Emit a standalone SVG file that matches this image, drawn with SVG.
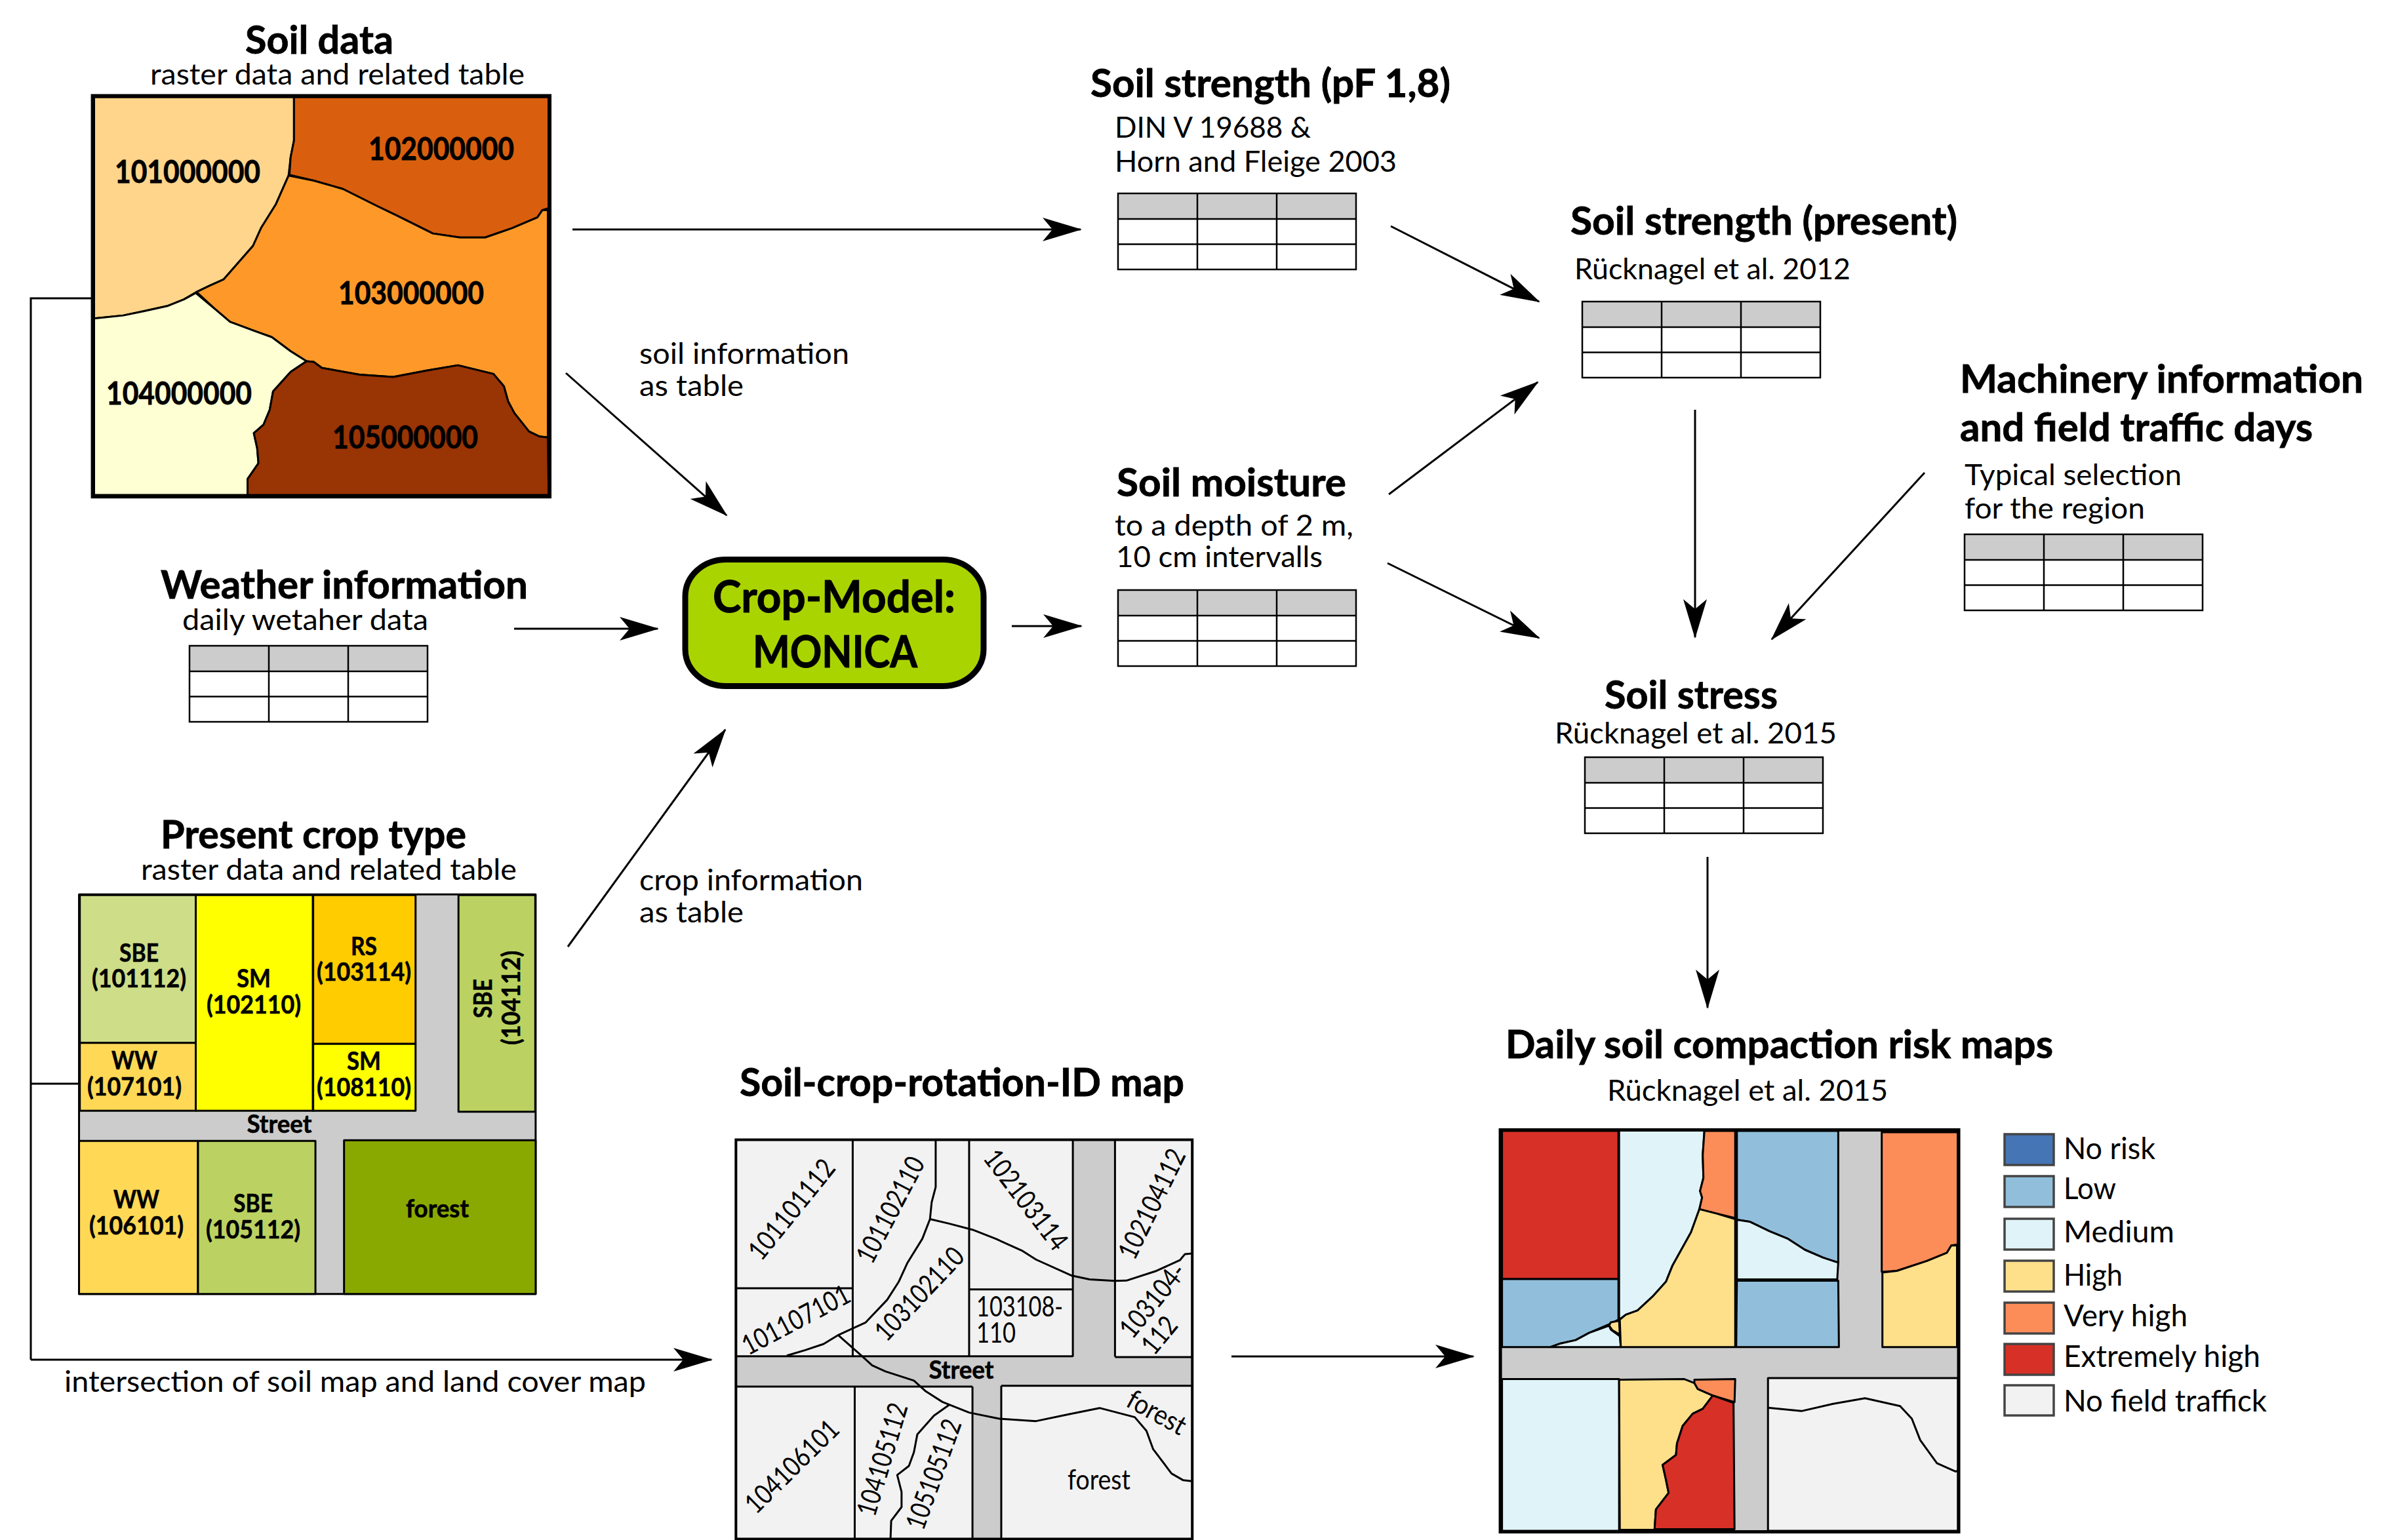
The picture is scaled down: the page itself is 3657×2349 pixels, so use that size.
<svg xmlns="http://www.w3.org/2000/svg" width="3657" height="2349" viewBox="0 0 3657 2349">
<style>
text{font-family:"Lato","Carlito","Liberation Sans",sans-serif;fill:#000}
.h{font-size:60px;font-weight:700;stroke:#000;stroke-width:.8}
.s{font-size:45px}
.n{font-size:47px;font-weight:700;stroke:#000;stroke-width:.8}
.c{font-size:38px;font-weight:700;text-anchor:middle;stroke:#000;stroke-width:.6}
.i{font-size:42px}
.l{font-size:46px}
.cm{font-size:66px;font-weight:700;stroke:#000;stroke-width:1}
.m{stroke:#000;stroke-width:3;stroke-linejoin:round;vector-effect:non-scaling-stroke}
.t{stroke:#000;stroke-width:5;fill:none;vector-effect:non-scaling-stroke}
.f{fill:none}
.k{stroke:#000;stroke-width:3;fill:none}
.a{marker-end:url(#arrow)}
.lg{stroke:#444;stroke-width:3.5}
</style>
<defs>
<marker id="arrow" markerUnits="userSpaceOnUse" markerWidth="64" markerHeight="40" refX="58" refY="20" orient="auto">
<path d="M0,2 L60,20 L0,38 L15,20 Z" fill="#000"/>
</marker>
<g id="tbl">
<rect x="0" y="0" width="363" height="39" fill="#ccc"/>
<rect x="0" y="0" width="363" height="116" fill="none" stroke="#000" stroke-width="2.5"/>
<path d="M121,0V116M242,0V116M0,39H363M0,77.5H363" fill="none" stroke="#000" stroke-width="2.5"/>
</g>
</defs>
<rect width="3657" height="2349" fill="#fff"/>

<g id="connectors">
<path class="k" d="M141,455H47V2074"/>
<path class="k" d="M47,1653H120"/>
<path class="k a" d="M47,2074H1085"/>
<path class="k a" d="M873,350H1648"/>
<path class="k a" d="M863,569L1108,786"/>
<path class="k a" d="M784,959H1003"/>
<path class="k a" d="M866,1444L1106,1113"/>
<path class="k a" d="M1543,955H1649"/>
<path class="k a" d="M2121,345L2347,460"/>
<path class="k a" d="M2118,754L2345,583"/>
<path class="k a" d="M2116,859L2347,973"/>
<path class="k a" d="M2585,625V972"/>
<path class="k a" d="M2935,721L2702,975"/>
<path class="k a" d="M2604,1307V1537"/>
<path class="k a" d="M1878,2069H2247"/>
</g>

<g id="soil-data">
<text class="h" x="374" y="82" textLength="226" lengthAdjust="spacingAndGlyphs">Soil data</text>
<text class="s" x="229" y="129" textLength="571" lengthAdjust="spacingAndGlyphs">raster data and related table</text>
<g transform="scale(0.63776,0.5102)">
<path class="m" fill="#FFD58B" d="M225,290L703,290L703,420L695,470L690,525L660,610L625,680L605,735L570,785L535,835L500,855L470,873L440,895L400,915L345,930L295,943L225,952Z"/>
<path class="m" fill="#D95F0E" d="M703,290L1312,290L1312,622L1297,628L1285,650L1225,682L1160,710L1100,710L1035,698L950,645L900,615L820,565L750,540L692,523L695,470L703,420Z"/>
<path class="m" fill="#FE9929" d="M690,525L750,540L820,565L900,615L950,645L1035,698L1100,710L1160,710L1225,682L1285,650L1297,628L1310,628L1310,1308L1290,1305L1265,1290L1230,1235L1215,1200L1205,1155L1180,1118L1095,1092L1020,1108L940,1127L860,1120L770,1100L750,1082L733,1080L695,1050L650,1008L610,990L550,962L515,925L470,873L500,855L535,835L570,785L605,735L625,680L660,610Z"/>
<path class="m" fill="#FFFFD4" d="M225,952L295,943L345,930L400,915L440,895L468,876L515,925L550,962L610,990L650,1008L695,1050L733,1080L695,1112L653,1170L645,1225L630,1270L607,1295L615,1340L618,1385L592,1432L592,1480L225,1480Z"/>
<path class="m" fill="#993404" d="M733,1080L750,1082L770,1100L860,1120L940,1127L1020,1108L1095,1092L1180,1118L1205,1155L1215,1200L1230,1235L1265,1290L1290,1305L1310,1308L1312,1480L592,1480L592,1432L618,1385L615,1340L607,1295L630,1270L645,1225L653,1170L695,1112Z"/>
<rect class="t" x="222" y="287" width="1092" height="1197" style="stroke-width:6"/>
</g>
<text class="n" x="175" y="279" textLength="222" lengthAdjust="spacingAndGlyphs">101000000</text>
<text class="n" x="562" y="244" textLength="222" lengthAdjust="spacingAndGlyphs">102000000</text>
<text class="n" x="516" y="464" textLength="222" lengthAdjust="spacingAndGlyphs">103000000</text>
<text class="n" x="162" y="617" textLength="222" lengthAdjust="spacingAndGlyphs">104000000</text>
<text class="n" x="507" y="684" textLength="222" lengthAdjust="spacingAndGlyphs">105000000</text>
</g>

<g id="soil-strength-pf">
<text class="h" x="1663" y="148" textLength="549" lengthAdjust="spacingAndGlyphs">Soil strength (pF 1,8)</text>
<text class="s" x="1700" y="210" textLength="299" lengthAdjust="spacingAndGlyphs">DIN V 19688 &amp;</text>
<text class="s" x="1700" y="262" textLength="430" lengthAdjust="spacingAndGlyphs">Horn and Fleige 2003</text>
<use href="#tbl" x="1705" y="295"/>
</g>

<g id="soil-strength-present">
<text class="h" x="2395" y="358" textLength="590" lengthAdjust="spacingAndGlyphs">Soil strength (present)</text>
<text class="s" x="2401" y="426" textLength="421" lengthAdjust="spacingAndGlyphs">Rücknagel et al. 2012</text>
<use href="#tbl" x="2413" y="460"/>
</g>

<g id="machinery">
<text class="h" x="2989" y="599" textLength="615" lengthAdjust="spacingAndGlyphs">Machinery information</text>
<text class="h" x="2989" y="673" textLength="538" lengthAdjust="spacingAndGlyphs">and field traffic days</text>
<text class="s" x="2996" y="740" textLength="331" lengthAdjust="spacingAndGlyphs">Typical selection</text>
<text class="s" x="2996" y="791" textLength="275" lengthAdjust="spacingAndGlyphs">for the region</text>
<use href="#tbl" x="2996" y="815"/>
</g>

<g id="soil-moisture">
<text class="h" x="1703" y="757" textLength="350" lengthAdjust="spacingAndGlyphs">Soil moisture</text>
<text class="s" x="1700" y="817" textLength="364" lengthAdjust="spacingAndGlyphs">to a depth of 2 m,</text>
<text class="s" x="1702" y="865" textLength="315" lengthAdjust="spacingAndGlyphs">10 cm intervalls</text>
<use href="#tbl" x="1705" y="900"/>
</g>

<g id="soil-stress">
<text class="h" x="2447" y="1081" textLength="264" lengthAdjust="spacingAndGlyphs">Soil stress</text>
<text class="s" x="2371" y="1134" textLength="430" lengthAdjust="spacingAndGlyphs">Rücknagel et al. 2015</text>
<use href="#tbl" x="2417" y="1155"/>
</g>

<g id="weather">
<text class="h" x="245" y="913" textLength="560" lengthAdjust="spacingAndGlyphs">Weather information</text>
<text class="s" x="278" y="961" textLength="375" lengthAdjust="spacingAndGlyphs">daily wetaher data</text>
<use href="#tbl" x="289" y="985"/>
</g>

<g id="crop-model">
<rect x="1045" y="853.5" width="455" height="193" rx="62" ry="56" fill="#AAD400" stroke="#000" stroke-width="9"/>
<text class="cm" x="1087" y="934" textLength="370" lengthAdjust="spacingAndGlyphs">Crop-Model:</text>
<text class="cm" x="1148" y="1018" textLength="251" lengthAdjust="spacingAndGlyphs">MONICA</text>
</g>

<g id="edge-labels">
<text class="s" x="975" y="555" textLength="320" lengthAdjust="spacingAndGlyphs">soil information</text>
<text class="s" x="975" y="604" textLength="159" lengthAdjust="spacingAndGlyphs">as table</text>
<text class="s" x="975" y="1358" textLength="341" lengthAdjust="spacingAndGlyphs">crop information</text>
<text class="s" x="975" y="1407" textLength="159" lengthAdjust="spacingAndGlyphs">as table</text>
<text class="s" x="98" y="2123" textLength="887" lengthAdjust="spacingAndGlyphs">intersection of soil map and land cover map</text>
</g>

<g id="present-crop-type">
<text class="h" x="245" y="1294" textLength="466" lengthAdjust="spacingAndGlyphs">Present crop type</text>
<text class="s" x="215" y="1342" textLength="573" lengthAdjust="spacingAndGlyphs">raster data and related table</text>
<g transform="translate(0,1230) scale(0.57405,0.5102)">
<rect class="m" fill="#ccc" x="210" y="263" width="1213" height="1195"/>
<rect class="m" fill="#CEDD88" x="212" y="265" width="308" height="442"/>
<rect class="m" fill="#FFD955" x="212" y="707" width="308" height="203"/>
<rect class="m" fill="#FFFF00" x="520" y="265" width="311" height="645"/>
<rect class="m" fill="#FFCC00" x="832" y="265" width="272" height="445"/>
<rect class="m" fill="#FFFF00" x="832" y="710" width="272" height="200"/>
<rect class="m" fill="#BBD262" x="1218" y="265" width="204" height="648"/>
<rect class="m" fill="#FFD955" x="210" y="1000" width="316" height="458"/>
<rect class="m" fill="#BBD262" x="526" y="1000" width="312" height="458"/>
<rect class="m" fill="#8AA900" x="914" y="998" width="509" height="460"/>
</g>
<text class="c" x="212" y="1467" textLength="60" lengthAdjust="spacingAndGlyphs">SBE</text>
<text class="c" x="212" y="1506" textLength="144" lengthAdjust="spacingAndGlyphs">(101112)</text>
<text class="c" x="387" y="1506" textLength="52" lengthAdjust="spacingAndGlyphs">SM</text>
<text class="c" x="387" y="1546" textLength="144" lengthAdjust="spacingAndGlyphs">(102110)</text>
<text class="c" x="555" y="1457" textLength="40" lengthAdjust="spacingAndGlyphs">RS</text>
<text class="c" x="555" y="1496" textLength="144" lengthAdjust="spacingAndGlyphs">(103114)</text>
<text class="c" x="205" y="1631" textLength="70" lengthAdjust="spacingAndGlyphs">WW</text>
<text class="c" x="205" y="1671" textLength="144" lengthAdjust="spacingAndGlyphs">(107101)</text>
<text class="c" x="555" y="1632" textLength="52" lengthAdjust="spacingAndGlyphs">SM</text>
<text class="c" x="555" y="1672" textLength="144" lengthAdjust="spacingAndGlyphs">(108110)</text>
<text class="c" transform="translate(750,1523) rotate(-90)" textLength="60" lengthAdjust="spacingAndGlyphs">SBE</text>
<text class="c" transform="translate(793,1522) rotate(-90)" textLength="144" lengthAdjust="spacingAndGlyphs">(104112)</text>
<text class="c" x="426" y="1728" textLength="99" lengthAdjust="spacingAndGlyphs">Street</text>
<text class="c" x="208" y="1843" textLength="70" lengthAdjust="spacingAndGlyphs">WW</text>
<text class="c" x="208" y="1883" textLength="144" lengthAdjust="spacingAndGlyphs">(106101)</text>
<text class="c" x="386" y="1849" textLength="60" lengthAdjust="spacingAndGlyphs">SBE</text>
<text class="c" x="386" y="1889" textLength="144" lengthAdjust="spacingAndGlyphs">(105112)</text>
<text class="c" x="667" y="1857" textLength="96" lengthAdjust="spacingAndGlyphs">forest</text>
</g>

<g id="soil-crop-rotation-id-map">
<text class="h" x="1128" y="1672" textLength="678" lengthAdjust="spacingAndGlyphs">Soil-crop-rotation-ID map</text>
<g transform="translate(1080,1620) scale(0.5102,0.46490)">
<rect class="m" fill="#F2F2F2" x="83" y="255" width="1364" height="1310"/>
<path fill="#ccc" d="M1090,255H1215V967H1447V1062H876V1565H790V1065H85V967H1090Z"/>
<path class="m f" d="M432,255V965M85,742H432M780,255V965M780,746H1090M1090,255V967M1216,255V967M85,965H1090M1216,968H1447M85,1065H790M876,1062H1447M438,1065V1565M790,1065V1565M876,1062V1565"/>
<path class="m f" d="M680,255L680,410L668,460L663,515L640,580L595,660L570,720L535,780L470,855L390,895L345,925L290,945L235,963"/>
<path class="m f" d="M663,515L720,530L790,550L860,580L940,620L980,648L1085,700L1140,713L1215,718L1250,717L1340,685L1410,650L1425,630L1445,628"/>
<path class="m f" d="M390,897L460,965L490,995L530,1015L615,1045L650,1080L700,1115L780,1150L870,1170L980,1178L1080,1155L1170,1135L1275,1165L1310,1210L1330,1270L1385,1350L1420,1372L1445,1375"/>
<path class="m f" d="M720,1125L675,1160L625,1222L615,1280L600,1325L565,1355L578,1410L578,1460L547,1505L545,1565"/>
<rect class="t" x="83" y="255" width="1364" height="1310" style="stroke-width:4"/>
</g>
<text class="i" transform="translate(1161,1925) rotate(-51)" textLength="183" lengthAdjust="spacingAndGlyphs">101101112</text>
<text class="i" transform="translate(1330,1930) rotate(-62.4)" textLength="176" lengthAdjust="spacingAndGlyphs">101102110</text>
<text class="i" transform="translate(1141,2068) rotate(-27.8)" textLength="180" lengthAdjust="spacingAndGlyphs">101107101</text>
<text class="i" transform="translate(1352,2048) rotate(-46.8)" textLength="177" lengthAdjust="spacingAndGlyphs">103102110</text>
<text class="i" transform="translate(1498,1767) rotate(52.6)" textLength="181" lengthAdjust="spacingAndGlyphs">102103114</text>
<text class="i" transform="translate(1730,1924) rotate(-64)" textLength="181" lengthAdjust="spacingAndGlyphs">102104112</text>
<text class="i" x="1489" y="2008" textLength="132" lengthAdjust="spacingAndGlyphs">103108-</text>
<text class="i" x="1489" y="2048" textLength="60" lengthAdjust="spacingAndGlyphs">110</text>
<text class="i" transform="translate(1727,2044) rotate(-50.8)" textLength="133" lengthAdjust="spacingAndGlyphs">103104-</text>
<text class="i" transform="translate(1760,2069) rotate(-50.4)" textLength="60" lengthAdjust="spacingAndGlyphs">112</text>
<text class="c" x="1466" y="2103" textLength="99" lengthAdjust="spacingAndGlyphs">Street</text>
<text class="i" transform="translate(1153,2311) rotate(-44.6)" textLength="182" lengthAdjust="spacingAndGlyphs">104106101</text>
<text class="i" transform="translate(1334,2315) rotate(-73.3)" textLength="177" lengthAdjust="spacingAndGlyphs">104105112</text>
<text class="i" transform="translate(1408,2336) rotate(-70.3)" textLength="175" lengthAdjust="spacingAndGlyphs">105105112</text>
<text class="i" transform="translate(1715,2144) rotate(28.7)" textLength="96" lengthAdjust="spacingAndGlyphs">forest</text>
<text class="i" x="1628" y="2272" textLength="96" lengthAdjust="spacingAndGlyphs">forest</text>
</g>

<g id="risk-map">
<text class="h" x="2296" y="1614" textLength="835" lengthAdjust="spacingAndGlyphs">Daily soil compaction risk maps</text>
<text class="s" x="2451" y="1679" textLength="428" lengthAdjust="spacingAndGlyphs">Rücknagel et al. 2015</text>
<g transform="translate(2260,1560) scale(0.5102,0.50327)">
<rect class="m" fill="#ccc" x="55" y="325" width="1370" height="1218"/>
<path class="m" fill="#D73027" d="M60,328H408V777H60Z"/>
<path class="m" fill="#91BFDB" d="M60,777H408V900L385,912L320,940L280,962L235,972L205,983H60Z"/>
<path class="m" fill="#E0F3F8" d="M205,983L235,972L280,962L320,940L380,918L385,930L412,950L415,983Z"/>
<path class="m" fill="#FEE08B" d="M380,918L385,908L410,903L412,945L390,932Z"/>
<path class="m" fill="#E0F3F8" d="M410,325H665L660,400L662,470L652,510L658,530L650,565L625,635L570,735L550,785L510,830L465,872L430,885L410,900Z"/>
<path class="m" fill="#FC8D59" d="M665,328H757V592L700,578L650,565L658,530L652,510L662,470L660,400Z"/>
<path class="m" fill="#FEE08B" d="M650,565L700,578L757,595V983H415L412,900L430,885L465,872L510,830L550,785L570,735L625,635Z"/>
<path class="m" fill="#91BFDB" d="M762,328H1065V727L1020,712L965,688L915,655L860,632L800,603L762,597Z"/>
<path class="m" fill="#E0F3F8" d="M762,597L800,603L860,632L915,655L965,688L1020,712L1065,727L1062,778H762Z"/>
<path class="m" fill="#91BFDB" d="M762,782H1065L1067,983H760Z"/>
<path class="m" fill="#FC8D59" d="M1195,332H1422V672L1403,675L1390,697L1330,722L1240,752L1195,755Z"/>
<path class="m" fill="#FEE08B" d="M1197,757L1240,752L1330,722L1390,697L1403,675L1420,675V983H1197Z"/>
<path class="m" fill="#E0F3F8" d="M60,1080H410V1540H60Z"/>
<path class="m" fill="#FEE08B" d="M410,1082L605,1080L635,1092L645,1110L690,1130L660,1170L630,1185L600,1222L583,1275L580,1310L540,1340L550,1385L558,1425L520,1475L516,1537H412Z"/>
<path class="m" fill="#FC8D59" d="M635,1082L757,1080L755,1150L690,1130L645,1110L635,1092Z"/>
<path class="m" fill="#D73027" d="M690,1130L752,1152L755,1535H516L520,1475L558,1425L550,1385L540,1340L580,1310L583,1275L600,1222L630,1185L660,1170Z"/>
<path class="m" fill="#F2F2F2" d="M855,1077H1423V1540H855Z"/>
<path class="m f" d="M855,1167L955,1177L1050,1155L1145,1138L1250,1162L1285,1200L1310,1265L1360,1335L1415,1360L1423,1358"/>
<rect class="t" x="55" y="325" width="1370" height="1218"/>
</g>
</g>

<g id="legend">
<rect class="lg" fill="#4575B4" x="3057" y="1730" width="75" height="47"/>
<rect class="lg" fill="#91BFDB" x="3057" y="1794" width="75" height="47"/>
<rect class="lg" fill="#E0F3F8" x="3057" y="1859" width="75" height="47"/>
<rect class="lg" fill="#FEE08B" x="3057" y="1923" width="75" height="47"/>
<rect class="lg" fill="#FC8D59" x="3057" y="1987" width="75" height="47"/>
<rect class="lg" fill="#D73027" x="3057" y="2050" width="75" height="47"/>
<rect class="lg" fill="#F2F2F2" x="3057" y="2113" width="75" height="46"/>
<text class="l" x="3147" y="1768" textLength="140" lengthAdjust="spacingAndGlyphs">No risk</text>
<text class="l" x="3147" y="1829" textLength="80" lengthAdjust="spacingAndGlyphs">Low</text>
<text class="l" x="3147" y="1895" textLength="169" lengthAdjust="spacingAndGlyphs">Medium</text>
<text class="l" x="3147" y="1961" textLength="90" lengthAdjust="spacingAndGlyphs">High</text>
<text class="l" x="3147" y="2023" textLength="189" lengthAdjust="spacingAndGlyphs">Very high</text>
<text class="l" x="3147" y="2085" textLength="300" lengthAdjust="spacingAndGlyphs">Extremely high</text>
<text class="l" x="3147" y="2153" textLength="310" lengthAdjust="spacingAndGlyphs">No field traffick</text>
</g>
</svg>
